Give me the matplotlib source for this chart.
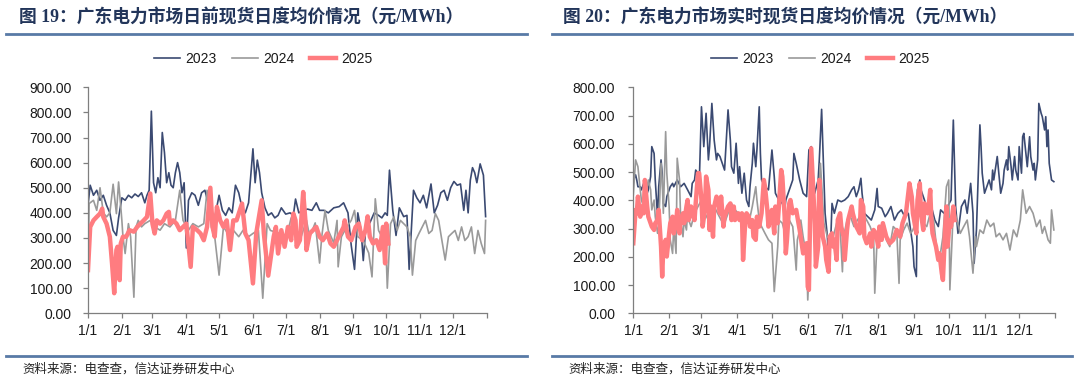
import matplotlib
matplotlib.use("Agg")
import matplotlib.pyplot as plt
from matplotlib.lines import Line2D
import numpy as np

# 日前 (day-ahead) daily average price, sampled from the chart, x = day of year
da_2023_days = [0, 2, 5, 8, 11, 14, 17, 20, 23, 26, 28, 31, 34, 37, 40, 43, 46, 49, 52, 54, 56, 58, 60, 62, 64, 66, 68, 70, 72, 74, 76, 78, 80, 82, 84, 86, 88, 90, 92, 95, 98, 101, 104, 107, 110, 113, 116, 120, 123, 126, 129, 132, 135, 138, 141, 144, 147, 151, 153, 155, 157, 159, 162, 165, 168, 171, 174, 177, 181, 185, 188, 190, 193, 197, 201, 205, 209, 212, 216, 220, 225, 230, 234, 238, 241, 244, 247, 250, 252, 255, 258, 262, 266, 269, 272, 274, 276, 279, 282, 285, 289, 292, 294, 298, 301, 304, 307, 310, 314, 317, 320, 323, 326, 329, 332, 335, 338, 341, 344, 346, 348, 350, 352, 354, 356, 359, 362, 364]
da_2023_vals = [430, 510, 470, 490, 450, 470, 430, 400, 330, 310, 380, 460, 450, 470, 460, 475, 465, 480, 440, 470, 490, 805, 520, 480, 540, 500, 720, 640, 520, 560, 510, 500, 560, 600, 560, 480, 520, 260, 450, 480, 470, 430, 480, 490, 440, 400, 380, 470, 410, 390, 420, 400, 510, 480, 420, 400, 440, 655, 520, 610, 560, 480, 420, 390, 400, 380, 390, 420, 395, 400, 390, 455, 400, 410, 415, 410, 440, 410, 410, 400, 420, 425, 440, 400, 270, 175, 400, 330, 210, 380, 360, 400, 390, 380, 400, 390, 570, 410, 310, 420, 385, 390, 175, 490, 460, 440, 470, 420, 515, 400, 430, 480, 490, 450, 500, 525, 510, 515, 410, 490, 400, 530, 580, 560, 520, 595, 550, 385]

da_2024_days = [0, 1, 5, 8, 11, 14, 17, 20, 23, 26, 28, 30, 31, 32, 34, 37, 39, 42, 44, 46, 49, 52, 57, 61, 66, 70, 75, 80, 84, 87, 92, 96, 101, 106, 109, 113, 116, 120, 124, 128, 133, 138, 142, 147, 151, 156, 160, 164, 167, 174, 182, 186, 191, 194, 200, 203, 208, 212, 214, 217, 220, 225, 228, 229, 232, 237, 241, 244, 247, 252, 257, 260, 263, 266, 269, 272, 274, 277, 280, 283, 286, 289, 292, 295, 297, 300, 303, 306, 309, 312, 315, 318, 321, 324, 327, 330, 333, 336, 339, 342, 345, 348, 351, 354, 357, 360, 363, 364]
da_2024_vals = [110, 437, 450, 410, 500, 400, 384, 400, 514, 397, 523, 424, 370, 305, 238, 357, 305, 64, 344, 370, 344, 357, 370, 344, 331, 357, 344, 370, 490, 370, 331, 357, 344, 357, 490, 344, 305, 152, 344, 318, 331, 305, 331, 305, 318, 331, 60, 357, 330, 320, 310, 380, 340, 290, 370, 305, 360, 200, 305, 410, 330, 280, 370, 185, 305, 345, 370, 410, 305, 290, 240, 145, 456, 330, 305, 357, 100, 357, 384, 330, 370, 357, 344, 305, 152, 290, 318, 344, 370, 318, 330, 397, 370, 290, 212, 305, 318, 330, 290, 344, 290, 305, 344, 238, 330, 278, 238, 370]

da_2025_days = [0, 2, 5, 8, 11, 13, 14, 17, 20, 22, 24, 26, 27, 29, 30, 32, 35, 38, 42, 45, 48, 51, 54, 57, 59, 61, 63, 66, 69, 72, 74, 75, 78, 81, 84, 87, 90, 94, 96, 100, 103, 106, 109, 112, 114, 116, 118, 121, 124, 127, 130, 133, 136, 141, 144, 147, 151, 154, 159, 161, 165, 170, 172, 174, 177, 180, 183, 186, 188, 190, 191, 194, 197, 199, 200, 203, 206, 209, 212, 215, 219, 222, 225, 228, 231, 234, 235, 238, 241, 245, 248, 251, 254, 256, 258, 261, 264, 267, 270, 272, 273, 275]
da_2025_vals = [172, 344, 370, 384, 397, 417, 384, 357, 305, 199, 80, 252, 265, 132, 278, 305, 305, 331, 325, 344, 357, 370, 384, 477, 357, 318, 370, 357, 370, 397, 404, 357, 370, 357, 331, 344, 357, 185, 344, 331, 318, 291, 344, 500, 344, 305, 424, 370, 344, 370, 252, 370, 370, 437, 318, 291, 119, 318, 450, 318, 150, 305, 344, 238, 331, 265, 344, 291, 397, 370, 265, 291, 483, 370, 252, 318, 331, 344, 305, 291, 318, 278, 265, 291, 318, 344, 370, 305, 291, 344, 357, 291, 331, 386, 305, 278, 291, 252, 344, 199, 357, 278]

# 实时 (real-time) daily average price
rt_2023_days = [0, 2, 3, 4, 6, 7, 9, 10, 12, 13, 15, 16, 18, 19, 21, 22, 24, 25, 26, 28, 29, 32, 34, 35, 38, 41, 44, 47, 50, 51, 53, 54, 56, 57, 59, 61, 63, 65, 66, 68, 70, 72, 73, 75, 76, 79, 82, 84, 85, 87, 89, 91, 92, 94, 96, 98, 100, 101, 103, 104, 106, 107, 109, 110, 111, 114, 117, 120, 122, 123, 126, 129, 131, 132, 135, 138, 139, 141, 144, 147, 150, 152, 154, 156, 157, 160, 161, 163, 165, 166, 168, 169, 171, 172, 174, 177, 180, 183, 186, 189, 191, 193, 195, 197, 198, 200, 203, 206, 209, 211, 212, 215, 218, 220, 223, 226, 229, 232, 235, 238, 240, 242, 243, 245, 246, 248, 249, 252, 255, 258, 261, 264, 266, 269, 272, 275, 277, 279, 281, 284, 287, 289, 292, 294, 295, 297, 300, 301, 302, 304, 305, 307, 308, 310, 311, 312, 315, 318, 320, 321, 323, 324, 325, 327, 328, 330, 331, 333, 334, 336, 337, 338, 341, 343, 344, 346, 347, 348, 350, 351, 353, 354, 356, 357, 358, 359, 360, 362, 364]
rt_2023_vals = [470, 490, 472, 448, 448, 437, 460, 448, 425, 437, 484, 590, 566, 472, 342, 448, 543, 496, 389, 378, 413, 448, 460, 448, 472, 448, 460, 437, 413, 460, 472, 507, 496, 448, 731, 590, 708, 543, 590, 743, 613, 543, 566, 555, 543, 507, 720, 613, 519, 496, 602, 460, 519, 425, 496, 401, 378, 448, 531, 602, 519, 578, 731, 566, 472, 448, 437, 578, 484, 425, 401, 389, 366, 401, 437, 472, 566, 531, 472, 425, 413, 578, 590, 472, 425, 472, 543, 722, 472, 354, 271, 189, 271, 389, 354, 401, 395, 401, 413, 437, 448, 413, 437, 478, 425, 354, 342, 330, 366, 442, 378, 372, 342, 354, 378, 330, 354, 366, 342, 354, 295, 236, 165, 130, 437, 472, 437, 401, 354, 378, 330, 307, 366, 354, 378, 401, 684, 378, 283, 378, 401, 354, 460, 354, 177, 295, 667, 590, 496, 425, 437, 460, 472, 437, 507, 472, 555, 425, 460, 507, 543, 507, 590, 519, 472, 555, 507, 472, 590, 496, 625, 637, 519, 625, 555, 507, 531, 472, 543, 743, 708, 696, 649, 696, 590, 649, 531, 472, 466]

rt_2024_days = [0, 2, 4, 6, 7, 9, 10, 12, 13, 15, 16, 18, 19, 21, 22, 24, 25, 26, 28, 29, 31, 32, 34, 35, 37, 38, 40, 41, 43, 44, 46, 47, 48, 50, 53, 56, 59, 62, 65, 67, 70, 73, 76, 79, 82, 85, 88, 91, 94, 97, 100, 103, 106, 107, 109, 111, 114, 117, 120, 122, 125, 126, 129, 132, 133, 135, 138, 139, 141, 142, 144, 145, 147, 150, 151, 153, 155, 157, 158, 159, 160, 162, 165, 168, 171, 173, 176, 179, 181, 182, 185, 188, 191, 194, 196, 199, 202, 205, 208, 209, 211, 214, 217, 219, 222, 225, 228, 230, 231, 234, 237, 240, 242, 245, 248, 251, 254, 257, 260, 263, 265, 268, 271, 273, 274, 276, 277, 280, 283, 286, 289, 291, 294, 296, 297, 300, 303, 306, 309, 312, 314, 317, 320, 323, 326, 329, 332, 335, 337, 340, 343, 346, 349, 352, 354, 356, 359, 361, 362, 364]
rt_2024_vals = [420, 543, 519, 437, 401, 378, 413, 448, 472, 437, 366, 401, 342, 283, 307, 531, 472, 354, 643, 496, 378, 260, 212, 307, 212, 549, 472, 330, 271, 330, 295, 354, 330, 307, 354, 378, 401, 354, 330, 354, 378, 354, 330, 319, 354, 389, 366, 354, 330, 354, 319, 378, 448, 401, 330, 307, 283, 260, 248, 77, 236, 330, 319, 271, 260, 330, 307, 260, 153, 260, 295, 330, 271, 200, 47, 236, 413, 260, 201, 330, 401, 531, 319, 271, 260, 271, 319, 307, 147, 271, 330, 342, 307, 330, 342, 354, 330, 307, 271, 71, 260, 283, 319, 260, 236, 307, 295, 106, 260, 295, 319, 283, 295, 330, 354, 319, 307, 354, 330, 212, 189, 271, 448, 472, 83, 271, 378, 330, 283, 307, 330, 271, 142, 271, 236, 295, 283, 330, 307, 319, 271, 283, 260, 283, 224, 295, 271, 330, 437, 354, 378, 354, 307, 330, 283, 307, 260, 248, 366, 295]

rt_2025_days = [0, 2, 3, 4, 6, 7, 9, 10, 12, 13, 15, 16, 18, 19, 21, 22, 24, 25, 26, 28, 29, 31, 32, 34, 35, 37, 38, 40, 41, 43, 44, 46, 47, 48, 50, 51, 53, 54, 56, 57, 59, 60, 62, 63, 65, 66, 67, 69, 70, 72, 73, 75, 76, 78, 79, 82, 84, 85, 87, 88, 91, 92, 94, 95, 97, 98, 100, 101, 103, 104, 106, 107, 109, 110, 111, 113, 114, 116, 117, 119, 120, 122, 123, 125, 126, 128, 129, 131, 132, 133, 135, 136, 138, 141, 144, 147, 148, 150, 151, 152, 154, 157, 158, 160, 161, 163, 164, 166, 167, 169, 170, 172, 173, 174, 176, 177, 179, 180, 182, 183, 185, 186, 189, 190, 193, 196, 197, 199, 200, 202, 205, 206, 208, 210, 212, 213, 215, 216, 219, 222, 225, 228, 231, 233, 236, 239, 241, 242, 245, 246, 248, 249, 251, 252, 255, 257, 258, 259, 262, 264, 265, 267, 268, 270, 271, 272, 274, 275, 277, 278]
rt_2025_vals = [248, 366, 354, 413, 342, 378, 354, 472, 378, 342, 319, 307, 295, 319, 330, 366, 236, 130, 236, 260, 201, 283, 319, 342, 283, 319, 366, 283, 330, 354, 319, 378, 401, 330, 378, 354, 330, 389, 496, 496, 401, 307, 366, 484, 437, 295, 378, 271, 378, 413, 401, 354, 413, 307, 342, 378, 389, 330, 378, 330, 354, 330, 354, 189, 330, 354, 342, 307, 330, 271, 260, 342, 307, 330, 354, 472, 448, 366, 307, 342, 366, 283, 378, 319, 378, 507, 484, 342, 212, 260, 389, 401, 354, 366, 295, 212, 224, 248, 94, 83, 584, 331, 165, 236, 472, 331, 271, 236, 189, 147, 271, 283, 236, 260, 189, 331, 354, 307, 271, 189, 295, 331, 378, 354, 307, 283, 401, 378, 271, 248, 283, 236, 295, 283, 236, 307, 260, 319, 271, 248, 260, 295, 271, 319, 354, 460, 413, 354, 283, 401, 460, 354, 295, 389, 354, 437, 330, 283, 236, 189, 212, 142, 118, 307, 378, 236, 330, 307, 378, 330]

years = ["2023", "2024", "2025"]
month_starts = [0, 31, 59, 90, 120, 151, 181, 212, 243, 273, 304, 334]
month_labels = ["1/1", "2/1", "3/1", "4/1", "5/1", "6/1", "7/1", "8/1", "9/1", "10/1", "11/1", "12/1"]

colors = {"2023": "#3b4a72", "2024": "#9a9a9a", "2025": "#ff7c80"}
widths = {"2023": 1.2, "2024": 1.2, "2025": 3.2}

W, H = 1080, 392
fig = plt.figure(figsize=(W / 100, H / 100), dpi=100)

tick_font = ["Liberation Sans", "DejaVu Sans"]
title_font = ["Liberation Serif", "Noto Sans CJK SC", "DejaVu Sans"]
cjk_font = ["Noto Sans CJK SC", "DejaVu Sans"]


def px(x0, y0, x1, y1):
    return [x0 / W, 1 - y1 / H, (x1 - x0) / W, (y1 - y0) / H]


def panel(rect, series, ymax, title, title_x, line_x, legend_x, ypad):
    ax = fig.add_axes(rect)
    for yr in years:
        d, v = series[yr]
        ax.plot(d, v, color=colors[yr], lw=widths[yr], label=yr,
                solid_joinstyle="round")
    ax.set_xlim(0, 365)
    ax.set_ylim(0, ymax)
    ax.set_xticks(month_starts + [365])
    ax.set_xticklabels(month_labels + [""])
    ax.set_yticks(np.arange(0, ymax + 1, 100))
    ax.set_yticklabels([f"{t:.2f}" for t in np.arange(0, ymax + 1, 100)])
    for s in ["top", "right"]:
        ax.spines[s].set_visible(False)
    for s in ["left", "bottom"]:
        ax.spines[s].set_color("#7f7f7f")
        ax.spines[s].set_linewidth(0.9)
    ax.tick_params(direction="out", length=3.6, width=0.9, color="#7f7f7f",
                   labelsize=10, labelcolor="#1a1a1a")
    ax.tick_params(axis="x", pad=4)
    ax.tick_params(axis="y", pad=ypad)
    for lab in ax.get_xticklabels() + ax.get_yticklabels():
        lab.set_family(tick_font)
    ax.set_facecolor("none")

    leg = fig.legend(*ax.get_legend_handles_labels(), loc="center",
                     bbox_to_anchor=(legend_x / W, 1 - 59 / H), ncol=3,
                     frameon=False, handlelength=1.9, handletextpad=0.35,
                     columnspacing=1.1, prop={"family": tick_font, "size": 10})
    for t in leg.get_texts():
        t.set_color("#1a1a1a")

    fig.text(title_x / W, 1 - 18 / H, title, ha="left", va="center",
             fontsize=12.8, fontweight="bold", color="#22355a", family=title_font)
    fig.add_artist(Line2D([line_x[0] / W, line_x[1] / W], [1 - 34 / H] * 2,
                          color="#587aa6", lw=2.0))
    fig.add_artist(Line2D([line_x[0] / W, line_x[1] / W], [1 - 356 / H] * 2,
                          color="#587aa6", lw=2.0))
    fig.text((line_x[0] + 16) / W, 1 - 369 / H, "资料来源：电查查，信达证券研发中心",
             ha="left", va="center", fontsize=9, color="#222222",
             family=cjk_font)
    return ax


panel(px(88, 87.3, 486.7, 313.3),
      {"2023": (da_2023_days, da_2023_vals),
       "2024": (da_2024_days, da_2024_vals),
       "2025": (da_2025_days, da_2025_vals)},
      900, "图 19：广东电力市场日前现货日度均价情况（元/MWh）", 19, (6, 527), 263, 8)

panel(px(633.3, 87.3, 1055, 313.3),
      {"2023": (rt_2023_days, rt_2023_vals),
       "2024": (rt_2024_days, rt_2024_vals),
       "2025": (rt_2025_days, rt_2025_vals)},
      800, "图 20：广东电力市场实时现货日度均价情况（元/MWh）", 563, (552, 1072), 820, 9.5)

fig.savefig("out.png", dpi=100)
